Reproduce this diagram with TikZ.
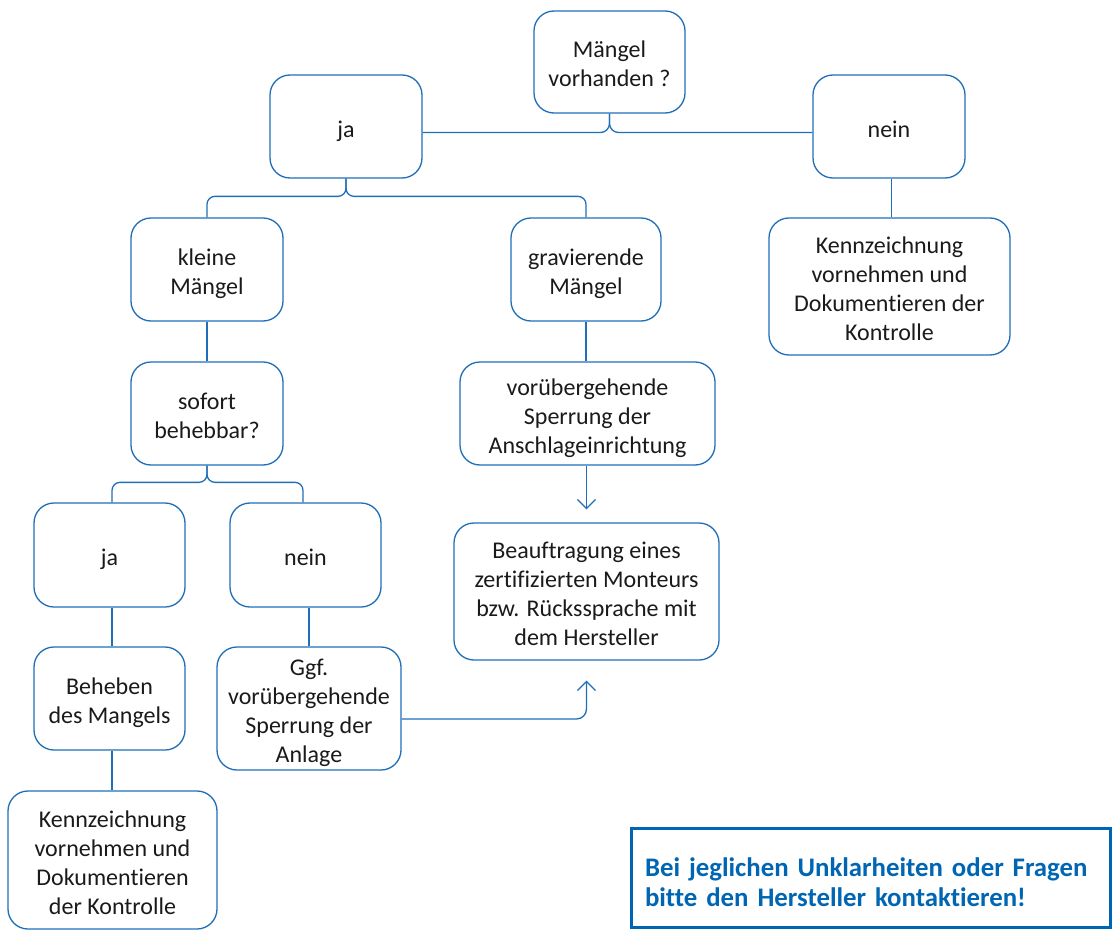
\documentclass[tikz,border=0pt]{standalone}
\usepackage{fontspec}
\setmainfont[Ligatures={NoCommon}]{Carlito}
\usetikzlibrary{arrows.meta}
\definecolor{lineblue}{RGB}{31,110,184}
\definecolor{noteblue}{RGB}{0,102,179}
\definecolor{txt}{RGB}{26,26,26}
\newcommand\mytopstr{\rule{0pt}{28pt}}
\newcommand\mybotstr{\rule[-7pt]{0pt}{7pt}}
\begin{document}
\begin{tikzpicture}[x=1pt,y=-1pt,
  box/.style={draw=lineblue,line width=1.3pt,rounded corners=20pt,align=center,
    text=txt,font=\fontsize{24}{29}\selectfont,inner sep=0pt},
  conn/.style={draw=lineblue,line width=1.3pt},
  arr/.style={conn,-{Straight Barb[length=9pt,width=18pt,line width=1.3pt]}},
  note/.style={draw=noteblue,line width=2.6pt,align=left,text=noteblue,
    font=\fontsize{26.8}{30}\selectfont\bfseries,inner sep=0pt,
    execute at begin node={\rule{0pt}{30pt}},
    execute at end node={\rule[-4pt]{0pt}{4pt}}}]
\useasboundingbox (0,0) rectangle (1112,934);
\node[box,minimum width=151pt,minimum height=102pt] (top) at (609.5,62) {\mytopstr Mängel\\vorhanden ?\mybotstr};
\node[box,minimum width=152pt,minimum height=103pt] (jaT) at (346,126.5) {\mytopstr ja\mybotstr};
\node[box,minimum width=152pt,minimum height=103pt] (neinT) at (889,126.5) {\mytopstr nein\mybotstr};
\node[box,minimum width=152pt,minimum height=103pt] (kl) at (207,269.5) {\mytopstr kleine\\Mängel\mybotstr};
\node[box,minimum width=150pt,minimum height=103pt] (gr) at (586,269.5) {\mytopstr gravierende\\Mängel\mybotstr};
\node[box,minimum width=241pt,minimum height=137pt] (kenR) at (889.5,286.5) {\mytopstr Kennzeichnung\\vornehmen und\\Dokumentieren der\\Kontrolle\mybotstr};
\node[box,minimum width=152pt,minimum height=103pt] (sof) at (207,413.5) {\mytopstr sofort\\behebbar?\mybotstr};
\node[box,minimum width=255pt,minimum height=103pt] (vor) at (587.5,413.5) {\mytopstr vorübergehende\\Sperrung der\\Anschlageinrichtung\mybotstr};
\node[box,minimum width=265pt,minimum height=137pt] (bea) at (586.5,591.5) {\mytopstr Beauftragung eines\\zertifizierten Monteurs\\bzw. Rückssprache mit\\dem Hersteller\mybotstr};
\node[box,minimum width=151pt,minimum height=104pt] (jaL) at (109.5,555) {\mytopstr ja\mybotstr};
\node[box,minimum width=151pt,minimum height=104pt] (neinL) at (305.5,555) {\mytopstr nein\mybotstr};
\node[box,minimum width=151pt,minimum height=103pt] (beh) at (109.5,698.5) {\mytopstr Beheben\\des Mangels\mybotstr};
\node[box,minimum width=184pt,minimum height=123pt] (ggf) at (309,708.5) {\mytopstr Ggf.\\vorübergehende\\Sperrung der\\Anlage\mybotstr};
\node[box,minimum width=209pt,minimum height=138pt] (kenL) at (112.5,860) {\mytopstr Kennzeichnung\\vornehmen und\\Dokumentieren\\der Kontrolle\mybotstr};
\node[note,minimum width=479pt,minimum height=99pt,text width=452pt] (note) at (871,878) {Bei jeglichen Unklarheiten oder Fragen\\bitte den Hersteller kontaktieren!};
% connectors
\draw[conn,rounded corners=9pt] (top.south) |- ([yshift=-6pt]jaT.east);
\draw[conn,rounded corners=9pt] (top.south) |- ([yshift=-6pt]neinT.west);
\draw[conn,rounded corners=8pt] (jaT.south) |- ([yshift=21pt]kl.north) -- (kl.north);
\draw[conn,rounded corners=8pt] (jaT.south) |- ([yshift=21pt]gr.north) -- (gr.north);
\draw[conn] ([xshift=2.5pt]neinT.south) -- ([xshift=2pt]kenR.north);
\draw[conn] (kl.south) -- (sof.north);
\draw[conn] (gr.south) -- ([xshift=-1.5pt]vor.north);
\draw[arr,shorten >=13pt] ([xshift=-1pt]vor.south) -- (bea.north);
\draw[conn,rounded corners=8pt] (sof.south) |- ([xshift=2.5pt,yshift=20pt]jaL.north) -- ([xshift=2.5pt]jaL.north);
\draw[conn,rounded corners=8pt] (sof.south) |- ([xshift=-2.5pt,yshift=20pt]neinL.north) -- ([xshift=-2.5pt]neinL.north);
\draw[conn] ([xshift=2.5pt]jaL.south) -- ([xshift=2.5pt]beh.north);
\draw[conn] ([xshift=3.5pt]neinL.south) -- (ggf.north);
\draw[conn] ([xshift=2.5pt]beh.south) -- ([xshift=-0.5pt]kenL.north);
\draw[arr,rounded corners=10pt,shorten >=20pt] ([yshift=-10.5pt]ggf.east) -| (bea.south);
\end{tikzpicture}
\end{document}
